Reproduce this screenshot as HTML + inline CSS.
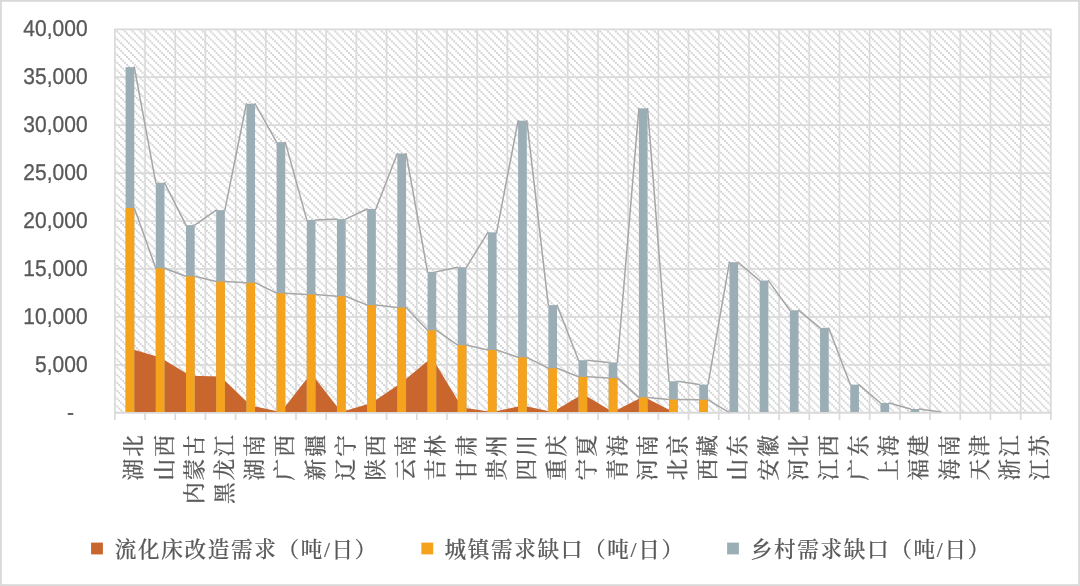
<!DOCTYPE html>
<html lang="zh-CN"><head><meta charset="utf-8"><title>需求缺口图表</title>
<style>
html,body{margin:0;padding:0;background:#fff;}
body{width:1080px;height:586px;overflow:hidden;}
svg{display:block;}
.yl{font-family:"Liberation Sans",sans-serif;font-size:22.8px;fill:#595959;stroke:#595959;stroke-width:0.3px;text-rendering:geometricPrecision;}
.xl{font-family:"Liberation Serif","Noto Serif CJK SC",serif;font-size:21.7px;font-weight:500;letter-spacing:1.9px;stroke:#595959;stroke-width:0.2px;fill:#595959;}
.lg{font-family:"Liberation Serif","Noto Serif CJK SC",serif;font-size:21.6px;font-weight:500;letter-spacing:1.65px;stroke:#595959;stroke-width:0.2px;fill:#595959;}
</style></head><body>
<svg width="1080" height="586" viewBox="0 0 1080 586">
<defs>
<pattern id="hatch" x="-0.52" y="-0.63" width="7.79" height="7.812" patternUnits="userSpaceOnUse">
<rect x="0.000" y="0.000" width="1.948" height="1.953" fill="#d5d5d5"/>
<rect x="1.948" y="1.953" width="1.948" height="1.953" fill="#d5d5d5"/>
<rect x="3.895" y="3.906" width="1.948" height="1.953" fill="#d5d5d5"/>
<rect x="5.843" y="5.859" width="1.948" height="1.953" fill="#d5d5d5"/>
</pattern>
</defs>
<rect x="0" y="0" width="1080" height="586" fill="#ffffff"/>
<rect x="0.9" y="0.9" width="1078.2" height="584.2" fill="none" stroke="#d9d9d9" stroke-width="1.8"/>
<rect x="114.85" y="29.2" width="936" height="383.4" fill="url(#hatch)"/>
<g stroke="#dadada" stroke-width="1.7" fill="none" transform="translate(0 0.1)">
<line x1="114.85" y1="29.2" x2="1050.85" y2="29.2"/>
<line x1="114.85" y1="77.12" x2="1050.85" y2="77.12"/>
<line x1="114.85" y1="125.05" x2="1050.85" y2="125.05"/>
<line x1="114.85" y1="172.97" x2="1050.85" y2="172.97"/>
<line x1="114.85" y1="220.9" x2="1050.85" y2="220.9"/>
<line x1="114.85" y1="268.83" x2="1050.85" y2="268.83"/>
<line x1="114.85" y1="316.75" x2="1050.85" y2="316.75"/>
<line x1="114.85" y1="364.68" x2="1050.85" y2="364.68"/>
<line x1="114.85" y1="412.6" x2="1050.85" y2="412.6"/>
<line x1="114.85" y1="28.55" x2="114.85" y2="419.8"/>
<line x1="145.04" y1="28.55" x2="145.04" y2="419.8"/>
<line x1="175.24" y1="28.55" x2="175.24" y2="419.8"/>
<line x1="205.43" y1="28.55" x2="205.43" y2="419.8"/>
<line x1="235.62" y1="28.55" x2="235.62" y2="419.8"/>
<line x1="265.82" y1="28.55" x2="265.82" y2="419.8"/>
<line x1="296.01" y1="28.55" x2="296.01" y2="419.8"/>
<line x1="326.2" y1="28.55" x2="326.2" y2="419.8"/>
<line x1="356.4" y1="28.55" x2="356.4" y2="419.8"/>
<line x1="386.59" y1="28.55" x2="386.59" y2="419.8"/>
<line x1="416.79" y1="28.55" x2="416.79" y2="419.8"/>
<line x1="446.98" y1="28.55" x2="446.98" y2="419.8"/>
<line x1="477.17" y1="28.55" x2="477.17" y2="419.8"/>
<line x1="507.37" y1="28.55" x2="507.37" y2="419.8"/>
<line x1="537.56" y1="28.55" x2="537.56" y2="419.8"/>
<line x1="567.75" y1="28.55" x2="567.75" y2="419.8"/>
<line x1="597.95" y1="28.55" x2="597.95" y2="419.8"/>
<line x1="628.14" y1="28.55" x2="628.14" y2="419.8"/>
<line x1="658.33" y1="28.55" x2="658.33" y2="419.8"/>
<line x1="688.53" y1="28.55" x2="688.53" y2="419.8"/>
<line x1="718.72" y1="28.55" x2="718.72" y2="419.8"/>
<line x1="748.91" y1="28.55" x2="748.91" y2="419.8"/>
<line x1="779.11" y1="28.55" x2="779.11" y2="419.8"/>
<line x1="809.3" y1="28.55" x2="809.3" y2="419.8"/>
<line x1="839.5" y1="28.55" x2="839.5" y2="419.8"/>
<line x1="869.69" y1="28.55" x2="869.69" y2="419.8"/>
<line x1="899.88" y1="28.55" x2="899.88" y2="419.8"/>
<line x1="930.08" y1="28.55" x2="930.08" y2="419.8"/>
<line x1="960.27" y1="28.55" x2="960.27" y2="419.8"/>
<line x1="990.46" y1="28.55" x2="990.46" y2="419.8"/>
<line x1="1020.66" y1="28.55" x2="1020.66" y2="419.8"/>
<line x1="1050.85" y1="28.55" x2="1050.85" y2="419.8"/>
</g>
<path d="M129.95 412.1 L129.95 348.6 L160.14 357.5 L190.33 375.7 L220.53 376.5 L250.72 405.4 L280.91 412.1 L311.11 373.2 L341.3 412.1 L371.5 403.1 L401.69 382.5 L431.88 357.5 L462.08 407.6 L492.27 412.1 L522.46 405.6 L552.66 412.1 L582.85 394.1 L613.04 412.1 L643.24 396.4 L673.43 412.1 L703.62 412.1 L733.82 412.1 L764.01 412.1 L794.2 412.1 L824.4 412.1 L854.59 412.1 L884.79 412.1 L914.98 412.1 L945.17 412.1 L975.37 412.1 L1005.56 412.1 L1035.75 412.1 L1035.75 412.1 Z" fill="#c8662e"/>
<g>
<rect x="125.6" y="67.1" width="8.7" height="344.9" fill="#9caeb5"/>
<rect x="125.6" y="208" width="8.7" height="204" fill="#f5a21d"/>
<rect x="155.79" y="182.8" width="8.7" height="229.2" fill="#9caeb5"/>
<rect x="155.79" y="268.2" width="8.7" height="143.8" fill="#f5a21d"/>
<rect x="185.98" y="225.1" width="8.7" height="186.9" fill="#9caeb5"/>
<rect x="185.98" y="276.2" width="8.7" height="135.8" fill="#f5a21d"/>
<rect x="216.18" y="210.1" width="8.7" height="201.9" fill="#9caeb5"/>
<rect x="216.18" y="281.5" width="8.7" height="130.5" fill="#f5a21d"/>
<rect x="246.37" y="103.75" width="8.7" height="308.25" fill="#9caeb5"/>
<rect x="246.37" y="282.7" width="8.7" height="129.3" fill="#f5a21d"/>
<rect x="276.56" y="142.15" width="8.7" height="269.85" fill="#9caeb5"/>
<rect x="276.56" y="293.2" width="8.7" height="118.8" fill="#f5a21d"/>
<rect x="306.76" y="219.9" width="8.7" height="192.1" fill="#9caeb5"/>
<rect x="306.76" y="294.5" width="8.7" height="117.5" fill="#f5a21d"/>
<rect x="336.95" y="219.1" width="8.7" height="192.9" fill="#9caeb5"/>
<rect x="336.95" y="296.2" width="8.7" height="115.8" fill="#f5a21d"/>
<rect x="367.15" y="209" width="8.7" height="203" fill="#9caeb5"/>
<rect x="367.15" y="305.1" width="8.7" height="106.9" fill="#f5a21d"/>
<rect x="397.34" y="153.5" width="8.7" height="258.5" fill="#9caeb5"/>
<rect x="397.34" y="307.6" width="8.7" height="104.4" fill="#f5a21d"/>
<rect x="427.53" y="271.8" width="8.7" height="140.2" fill="#9caeb5"/>
<rect x="427.53" y="330.2" width="8.7" height="81.8" fill="#f5a21d"/>
<rect x="457.73" y="267.2" width="8.7" height="144.8" fill="#9caeb5"/>
<rect x="457.73" y="345.1" width="8.7" height="66.9" fill="#f5a21d"/>
<rect x="487.92" y="232.3" width="8.7" height="179.7" fill="#9caeb5"/>
<rect x="487.92" y="350" width="8.7" height="62" fill="#f5a21d"/>
<rect x="518.11" y="120.7" width="8.7" height="291.3" fill="#9caeb5"/>
<rect x="518.11" y="357.3" width="8.7" height="54.7" fill="#f5a21d"/>
<rect x="548.31" y="305.1" width="8.7" height="106.9" fill="#9caeb5"/>
<rect x="548.31" y="368.2" width="8.7" height="43.8" fill="#f5a21d"/>
<rect x="578.5" y="360.2" width="8.7" height="51.8" fill="#9caeb5"/>
<rect x="578.5" y="376.8" width="8.7" height="35.2" fill="#f5a21d"/>
<rect x="608.69" y="362.4" width="8.7" height="49.6" fill="#9caeb5"/>
<rect x="608.69" y="378.1" width="8.7" height="33.9" fill="#f5a21d"/>
<rect x="638.89" y="108.4" width="8.7" height="303.6" fill="#9caeb5"/>
<rect x="638.89" y="397.4" width="8.7" height="14.6" fill="#f5a21d"/>
<rect x="669.08" y="381.2" width="8.7" height="30.8" fill="#9caeb5"/>
<rect x="669.08" y="399.6" width="8.7" height="12.4" fill="#f5a21d"/>
<rect x="699.27" y="384.6" width="8.7" height="27.4" fill="#9caeb5"/>
<rect x="699.27" y="399.8" width="8.7" height="12.2" fill="#f5a21d"/>
<rect x="729.47" y="262.2" width="8.7" height="149.8" fill="#9caeb5"/>
<rect x="759.66" y="280.6" width="8.7" height="131.4" fill="#9caeb5"/>
<rect x="789.85" y="310.3" width="8.7" height="101.7" fill="#9caeb5"/>
<rect x="820.05" y="327.9" width="8.7" height="84.1" fill="#9caeb5"/>
<rect x="850.24" y="384.6" width="8.7" height="27.4" fill="#9caeb5"/>
<rect x="880.44" y="403" width="8.7" height="9" fill="#9caeb5"/>
<rect x="910.63" y="409" width="8.7" height="3" fill="#9caeb5"/>
</g>
<g stroke="#a6a6a6" stroke-width="1.5" fill="none" stroke-linecap="round">
<line x1="134.3" y1="208" x2="155.79" y2="268.2"/>
<line x1="164.49" y1="268.2" x2="185.98" y2="276.2"/>
<line x1="194.68" y1="276.2" x2="216.18" y2="281.5"/>
<line x1="224.88" y1="281.5" x2="246.37" y2="282.7"/>
<line x1="255.07" y1="282.7" x2="276.56" y2="293.2"/>
<line x1="285.26" y1="293.2" x2="306.76" y2="294.5"/>
<line x1="315.46" y1="294.5" x2="336.95" y2="296.2"/>
<line x1="345.65" y1="296.2" x2="367.15" y2="305.1"/>
<line x1="375.85" y1="305.1" x2="397.34" y2="307.6"/>
<line x1="406.04" y1="307.6" x2="427.53" y2="330.2"/>
<line x1="436.23" y1="330.2" x2="457.73" y2="345.1"/>
<line x1="466.43" y1="345.1" x2="487.92" y2="350"/>
<line x1="496.62" y1="350" x2="518.11" y2="357.3"/>
<line x1="526.81" y1="357.3" x2="548.31" y2="368.2"/>
<line x1="557.01" y1="368.2" x2="578.5" y2="376.8"/>
<line x1="587.2" y1="376.8" x2="608.69" y2="378.1"/>
<line x1="617.39" y1="378.1" x2="638.89" y2="397.4"/>
<line x1="647.59" y1="397.4" x2="669.08" y2="399.6"/>
<line x1="677.78" y1="399.6" x2="699.27" y2="399.8"/>
<line x1="707.97" y1="399.8" x2="729.47" y2="412.6"/>
<line x1="134.3" y1="67.1" x2="155.79" y2="182.8"/>
<line x1="164.49" y1="182.8" x2="185.98" y2="225.1"/>
<line x1="194.68" y1="225.1" x2="216.18" y2="210.1"/>
<line x1="224.88" y1="210.1" x2="246.37" y2="103.75"/>
<line x1="255.07" y1="103.75" x2="276.56" y2="142.15"/>
<line x1="285.26" y1="142.15" x2="306.76" y2="219.9"/>
<line x1="315.46" y1="219.9" x2="336.95" y2="219.1"/>
<line x1="345.65" y1="219.1" x2="367.15" y2="209"/>
<line x1="375.85" y1="209" x2="397.34" y2="153.5"/>
<line x1="406.04" y1="153.5" x2="427.53" y2="271.8"/>
<line x1="436.23" y1="271.8" x2="457.73" y2="267.2"/>
<line x1="466.43" y1="267.2" x2="487.92" y2="232.3"/>
<line x1="496.62" y1="232.3" x2="518.11" y2="120.7"/>
<line x1="526.81" y1="120.7" x2="548.31" y2="305.1"/>
<line x1="557.01" y1="305.1" x2="578.5" y2="360.2"/>
<line x1="587.2" y1="360.2" x2="608.69" y2="362.4"/>
<line x1="617.39" y1="362.4" x2="638.89" y2="108.4"/>
<line x1="647.59" y1="108.4" x2="669.08" y2="381.2"/>
<line x1="677.78" y1="381.2" x2="699.27" y2="384.6"/>
<line x1="707.97" y1="384.6" x2="729.47" y2="262.2"/>
<line x1="738.17" y1="262.2" x2="759.66" y2="280.6"/>
<line x1="768.36" y1="280.6" x2="789.85" y2="310.3"/>
<line x1="798.55" y1="310.3" x2="820.05" y2="327.9"/>
<line x1="828.75" y1="327.9" x2="850.24" y2="384.6"/>
<line x1="858.94" y1="384.6" x2="880.44" y2="403"/>
<line x1="889.14" y1="403" x2="910.63" y2="409"/>
<line x1="919.33" y1="409" x2="940.82" y2="412"/>
</g>
<line x1="114.25" y1="412.75" x2="1051.65" y2="412.75" stroke="#d9d9d9" stroke-width="1.25"/>
<text class="yl" text-anchor="end" transform="translate(87.6 36.05) scale(0.921 1)">40,000</text>
<text class="yl" text-anchor="end" transform="translate(87.6 83.97) scale(0.921 1)">35,000</text>
<text class="yl" text-anchor="end" transform="translate(87.6 131.9) scale(0.921 1)">30,000</text>
<text class="yl" text-anchor="end" transform="translate(87.6 179.82) scale(0.921 1)">25,000</text>
<text class="yl" text-anchor="end" transform="translate(87.6 227.75) scale(0.921 1)">20,000</text>
<text class="yl" text-anchor="end" transform="translate(87.6 275.68) scale(0.921 1)">15,000</text>
<text class="yl" text-anchor="end" transform="translate(87.6 323.6) scale(0.921 1)">10,000</text>
<text class="yl" text-anchor="end" transform="translate(87.6 371.53) scale(0.921 1)">5,000</text>
<text class="yl" text-anchor="middle" transform="translate(70.5 419.6) scale(0.921 1)">-</text>
<text class="xl" text-anchor="end" transform="translate(141.45 433.2) rotate(-90)">湖北</text>
<text class="xl" text-anchor="end" transform="translate(171.64 433.2) rotate(-90)">山西</text>
<text class="xl" text-anchor="end" transform="translate(201.83 433.2) rotate(-90)">内蒙古</text>
<text class="xl" text-anchor="end" transform="translate(232.03 433.2) rotate(-90)">黑龙江</text>
<text class="xl" text-anchor="end" transform="translate(262.22 433.2) rotate(-90)">湖南</text>
<text class="xl" text-anchor="end" transform="translate(292.41 433.2) rotate(-90)">广西</text>
<text class="xl" text-anchor="end" transform="translate(322.61 433.2) rotate(-90)">新疆</text>
<text class="xl" text-anchor="end" transform="translate(352.8 433.2) rotate(-90)">辽宁</text>
<text class="xl" text-anchor="end" transform="translate(383 433.2) rotate(-90)">陕西</text>
<text class="xl" text-anchor="end" transform="translate(413.19 433.2) rotate(-90)">云南</text>
<text class="xl" text-anchor="end" transform="translate(443.38 433.2) rotate(-90)">吉林</text>
<text class="xl" text-anchor="end" transform="translate(473.58 433.2) rotate(-90)">甘肃</text>
<text class="xl" text-anchor="end" transform="translate(503.77 433.2) rotate(-90)">贵州</text>
<text class="xl" text-anchor="end" transform="translate(533.96 433.2) rotate(-90)">四川</text>
<text class="xl" text-anchor="end" transform="translate(564.16 433.2) rotate(-90)">重庆</text>
<text class="xl" text-anchor="end" transform="translate(594.35 433.2) rotate(-90)">宁夏</text>
<text class="xl" text-anchor="end" transform="translate(624.54 433.2) rotate(-90)">青海</text>
<text class="xl" text-anchor="end" transform="translate(654.74 433.2) rotate(-90)">河南</text>
<text class="xl" text-anchor="end" transform="translate(684.93 433.2) rotate(-90)">北京</text>
<text class="xl" text-anchor="end" transform="translate(715.12 433.2) rotate(-90)">西藏</text>
<text class="xl" text-anchor="end" transform="translate(745.32 433.2) rotate(-90)">山东</text>
<text class="xl" text-anchor="end" transform="translate(775.51 433.2) rotate(-90)">安徽</text>
<text class="xl" text-anchor="end" transform="translate(805.7 433.2) rotate(-90)">河北</text>
<text class="xl" text-anchor="end" transform="translate(835.9 433.2) rotate(-90)">江西</text>
<text class="xl" text-anchor="end" transform="translate(866.09 433.2) rotate(-90)">广东</text>
<text class="xl" text-anchor="end" transform="translate(896.29 433.2) rotate(-90)">上海</text>
<text class="xl" text-anchor="end" transform="translate(926.48 433.2) rotate(-90)">福建</text>
<text class="xl" text-anchor="end" transform="translate(956.67 433.2) rotate(-90)">海南</text>
<text class="xl" text-anchor="end" transform="translate(986.87 433.2) rotate(-90)">天津</text>
<text class="xl" text-anchor="end" transform="translate(1017.06 433.2) rotate(-90)">浙江</text>
<text class="xl" text-anchor="end" transform="translate(1047.25 433.2) rotate(-90)">江苏</text>
<rect x="91.1" y="542.6" width="11.8" height="11.8" fill="#c8662e"/>
<text class="lg" x="114.7" y="557">流化床改造需求（吨/日）</text>
<rect x="421.4" y="542.6" width="11.8" height="11.8" fill="#f5a21d"/>
<text class="lg" x="444.6" y="557">城镇需求缺口（吨/日）</text>
<rect x="727.1" y="542.6" width="11.8" height="11.8" fill="#9caeb5"/>
<text class="lg" x="750.8" y="557">乡村需求缺口（吨/日）</text>
</svg>
</body></html>
